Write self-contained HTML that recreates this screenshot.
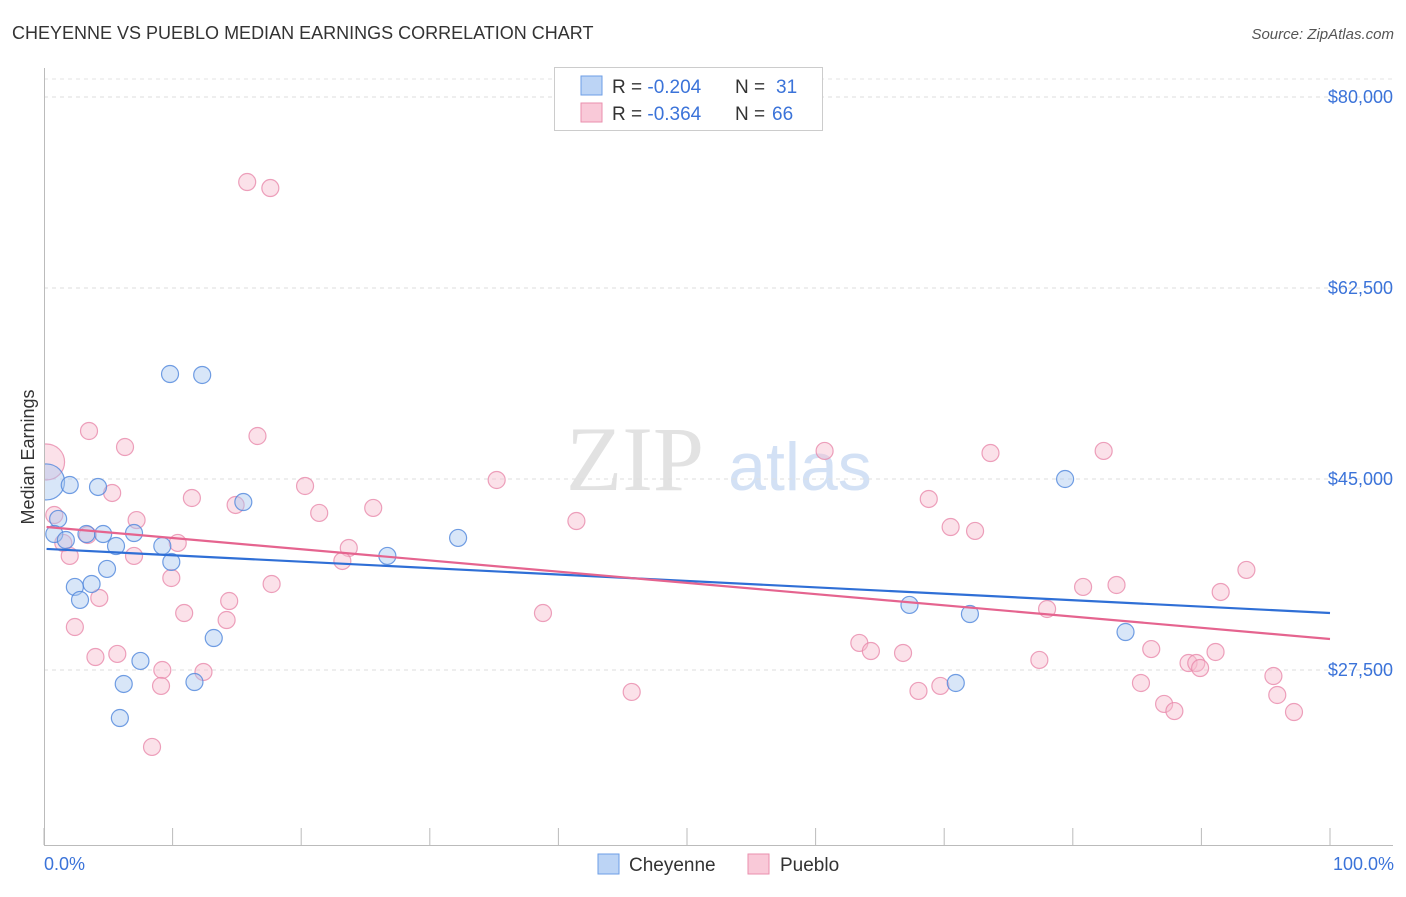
<!DOCTYPE html>
<html><head><meta charset="utf-8"><style>
body{margin:0;background:#fff;font-family:"Liberation Sans",sans-serif}
svg text{font-family:"Liberation Sans",sans-serif}
</style></head><body>
<svg width="1406" height="892">
<defs><clipPath id="plotclip"><rect x="45" y="60" width="1360" height="786"/></clipPath></defs>
<text x="12" y="39" font-size="18" fill="#333">CHEYENNE VS PUEBLO MEDIAN EARNINGS CORRELATION CHART</text>
<text x="1394" y="39" font-size="15" fill="#555" font-style="italic" text-anchor="end">Source: ZipAtlas.com</text>
<g>
<text x="635" y="490" font-size="92" fill="#e2e2e2" font-family="Liberation Serif" text-anchor="middle" style="font-family:'Liberation Serif',serif">ZIP</text>
<text x="800" y="490" font-size="68" fill="#d3e1f5" text-anchor="middle">atlas</text>
</g>
<g id="grid"></g>
<g id="axes"></g>
<g id="pts" clip-path="url(#plotclip)"></g>
<g id="trend"></g>
<text transform="translate(34,457) rotate(-90)" font-size="18" fill="#333" text-anchor="middle">Median Earnings</text>
<text x="44" y="870" font-size="18" fill="#3b73d9">0.0%</text>
<text x="1394" y="870" font-size="18" fill="#3b73d9" text-anchor="end">100.0%</text>
<g>
<rect x="554.5" y="67.5" width="268" height="63" fill="#fff" stroke="#ccc"/>
<rect x="581" y="76" width="21" height="19" fill="#bcd4f5" stroke="#6d9ee6"/>
<rect x="581" y="103" width="21" height="19" fill="#f9c9d8" stroke="#ea8fae"/>
<text x="612" y="93" font-size="19" fill="#333">R = <tspan fill="#3b73d9">-0.204</tspan><tspan x="735">N = </tspan><tspan fill="#3b73d9" x="776">31</tspan></text>
<text x="612" y="120" font-size="19" fill="#333">R = <tspan fill="#3b73d9">-0.364</tspan><tspan x="735">N = </tspan><tspan fill="#3b73d9" x="772">66</tspan></text>
</g>
<g>
<rect x="598" y="854" width="21" height="20" fill="#bcd4f5" stroke="#6d9ee6"/>
<text x="629" y="871" font-size="19" fill="#333">Cheyenne</text>
<rect x="748" y="854" width="21" height="20" fill="#f9c9d8" stroke="#ea8fae"/>
<text x="780" y="871" font-size="19" fill="#333">Pueblo</text>
</g>
</svg>
<script>
const yTicks=[27500,45000,62500,80000];
const yTickLabels=["$27,500","$45,000","$62,500","$80,000"];
const xTicks=[0,10,20,30,40,50,60,70,80,90,100];
const cheyenneX=[0.2,2.0,1.1,0.8,1.7,3.3,4.6,5.6,7.0,9.2,9.9,4.2,4.9,2.4,3.7,2.8,9.8,12.3,15.5,13.2,7.5,6.2,11.7,5.9,26.7,32.2,79.4,67.3,72.0,84.1,70.9];
const cheyenneY=[44730,44450,41340,39960,39410,39960,39960,38860,40050,38860,37400,44270,36760,35110,35380,33920,54620,54530,42890,30430,28330,26220,26400,23100,37950,39600,45000,33460,32630,30980,26310];
const puebloX=[0.2,3.5,6.3,16.6,15.8,17.6,5.3,0.8,7.2,3.4,1.5,2.0,7.0,10.4,11.5,14.9,20.3,21.4,25.6,23.7,23.2,9.9,4.3,2.4,10.9,14.4,14.2,17.7,4.0,5.7,9.2,12.4,9.1,8.4,35.2,41.4,38.8,45.7,60.7,63.4,64.3,66.8,68.0,69.7,68.8,70.5,72.4,73.6,78.0,77.4,82.4,80.8,83.4,86.1,85.3,87.1,87.9,89.0,89.6,89.9,91.1,91.5,93.5,95.6,95.9,97.2];
const puebloY=[46560,49400,47930,48940,72210,71660,43720,41700,41240,39870,39140,37950,37950,39140,43260,42620,44360,41890,42350,38680,37490,35930,34100,31440,32720,33820,32080,35380,28690,28970,27500,27320,26040,20450,44910,41150,32720,25490,47570,29980,29240,29060,25580,26040,43170,40600,40240,47380,33090,28420,47570,35110,35290,29420,26310,24390,23740,28140,28140,27680,29150,34650,36670,26950,25210,23650];
const cheyenneTrend=[38590,32720];
const puebloTrend=[40600,30340];
const NS="http://www.w3.org/2000/svg";
const X=p=>44+p*12.86;
const Y=v=>97+(80000-v)*191/17500;
function mk(t,a,parent){const e=document.createElementNS(NS,t);for(const k in a)e.setAttribute(k,a[k]);document.getElementById(parent).appendChild(e);return e;}
mk('line',{x1:44,x2:1393,y1:79,y2:79,stroke:'#e3e3e3','stroke-dasharray':'4,4'},'grid');
yTicks.forEach((v,i)=>{
 const l=mk('line',{x1:44,x2:1393,y1:Y(v),y2:Y(v),stroke:'#dedede','stroke-dasharray':'4,4'},'grid');
 
 
 const t=mk('text',{x:1393,y:Y(v)+6,'font-size':18,fill:'#3b73d9','text-anchor':'end'},'grid');
 t.textContent=yTickLabels[i];
 
 
});
const ya=mk('line',{x1:44.5,x2:44.5,y1:68,y2:845,stroke:'#bbb'},'axes');


const xa=mk('line',{x1:44,x2:1393,y1:845.5,y2:845.5,stroke:'#bbb'},'axes');


xTicks.forEach(p=>{
 const t=mk('line',{x1:X(p),x2:X(p),y1:828,y2:845,stroke:'#bbb'},'axes');
 
 
});
function pts(xs,ys,fill,stroke,name){
 xs.forEach((x,i)=>{
  const r=(i===0)?18:8.5;
  const c=mk('circle',{cx:X(x),cy:Y(ys[i]),r:r,fill:fill,'fill-opacity':0.45,stroke:stroke,'stroke-width':1.2,'stroke-opacity':0.8},'pts');
  
  
 });
}
pts(puebloX,puebloY,'#f7bccf','#e98aab','pueblo-point');
pts(cheyenneX,cheyenneY,'#a9c8f0','#4f86dc','cheyenne-point');
const tb=mk('line',{x1:X(0.2),x2:X(100),y1:Y(cheyenneTrend[0]),y2:Y(cheyenneTrend[1]),stroke:'#2f6fd6','stroke-width':2.2},'trend');


const tp=mk('line',{x1:X(0.2),x2:X(100),y1:Y(puebloTrend[0]),y2:Y(puebloTrend[1]),stroke:'#e5648f','stroke-width':2.2},'trend');


</script>
</body></html>
